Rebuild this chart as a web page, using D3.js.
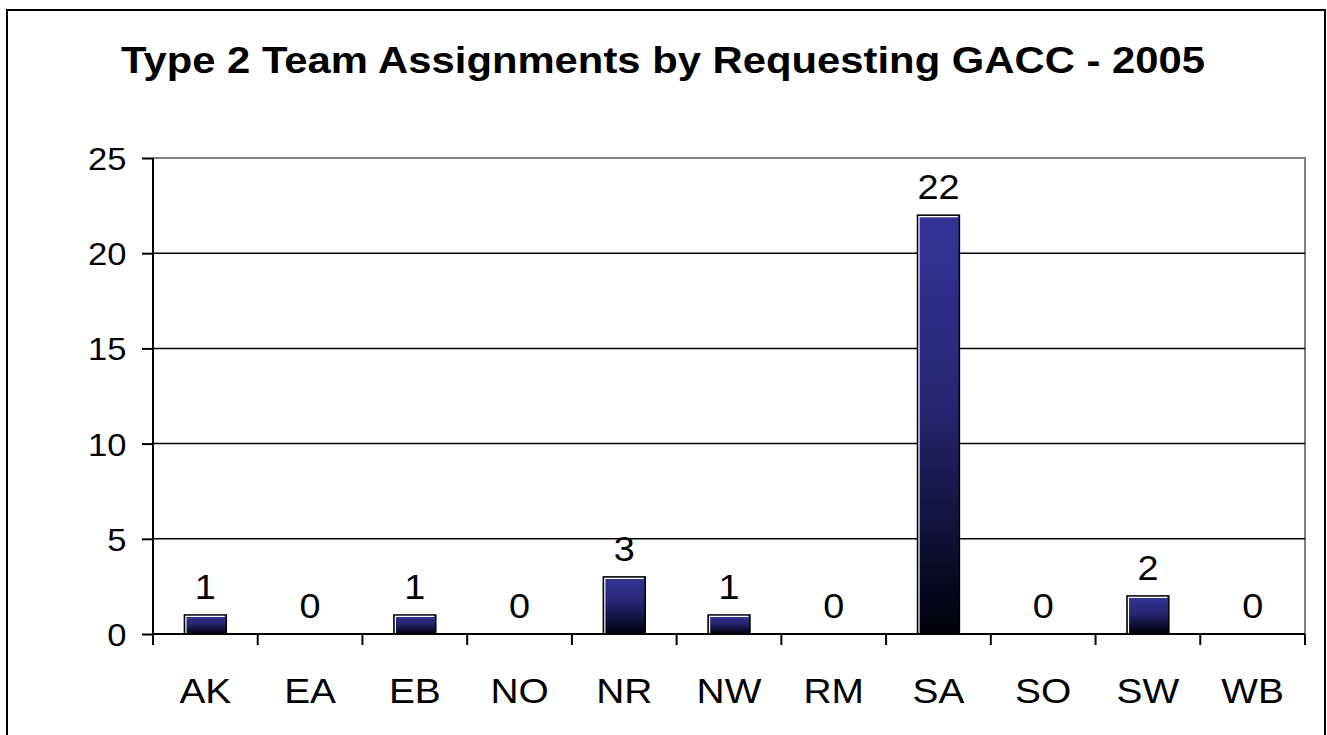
<!DOCTYPE html>
<html>
<head>
<meta charset="utf-8">
<script src="https://cdn.jsdelivr.net/npm/d3@7"></script>
<style>
  body { margin: 0; background: #fff; }
  text { font-family: "Liberation Sans", Arial, sans-serif; }
</style>
</head>
<body>
<div id="chart"></div>
<script>
// Data
var gaccs = ["AK", "EA", "EB", "NO", "NR", "NW", "RM", "SA", "SO", "SW", "WB"];
var assignments = [1, 0, 1, 0, 3, 1, 0, 22, 0, 2, 0];
var yTicks = [0, 5, 10, 15, 20, 25];
var chartTitle = "Type 2 Team Assignments by Requesting GACC - 2005";

var width = 1327,
    height = 735;

var margin = {top: 158, right: 22, bottom: 101, left: 153};

// the original text is a little wider than Arial, stretch it sideways
var stretch = 1.08;

var svg = d3.select("#chart")
            .append("svg")
              .attr("width", width)
              .attr("height", height);

// Outer chart frame
svg.append("rect")
  .attr("x", 7)
  .attr("y", 10)
  .attr("width", 1318)
  .attr("height", 760)
  .attr("fill", "none")
  .attr("stroke", "#000")
  .attr("stroke-width", 2);

// Title
svg.append("text")
  .attr("transform", "translate(663,73) scale(1.13,1)")
  .attr("text-anchor", "middle")
  .style("font-size", "37px")
  .style("font-weight", "bold")
  .text(chartTitle);

// Bar gradient
var defs = svg.append("defs");
var grad = defs.append("linearGradient")
  .attr("id", "barFill")
  .attr("x1", 0).attr("y1", 0)
  .attr("x2", 0).attr("y2", 1);
grad.append("stop").attr("offset", "0%").attr("stop-color", "#343499");
grad.append("stop").attr("offset", "45%").attr("stop-color", "#262672");
grad.append("stop").attr("offset", "100%").attr("stop-color", "#00000a");

var plotW = width - margin.left - margin.right,
    plotH = height - margin.top - margin.bottom;

var g = svg.append("g")
  .attr("transform", "translate(" + margin.left + "," + margin.top + ")");

var x = d3.scaleBand()
          .domain(gaccs)
          .range([0, plotW])
          .paddingInner(0.6)
          .paddingOuter(0.3);

var y = d3.scaleLinear()
          .domain([0, 25])
          .range([plotH, 0]);

// Plot area border (grey top and right)
g.append("path")
  .attr("d", "M0,0H" + plotW + "V" + plotH)
  .attr("fill", "none")
  .attr("stroke", "#808080")
  .attr("stroke-width", 2);

// Gridlines
g.selectAll(".grid")
  .data(yTicks.filter(function(d) { return d > 0 && d < 25; }))
  .enter()
  .append("line")
    .attr("class", "grid")
    .attr("x1", 0)
    .attr("x2", plotW)
    .attr("y1", function(d) { return y(d); })
    .attr("y2", function(d) { return y(d); })
    .attr("stroke", "#000")
    .attr("stroke-width", 1.5);

// Bars
var bars = g.selectAll(".bar")
  .data(gaccs.map(function(k, i) { return {key: k, value: assignments[i]}; }))
  .enter()
  .append("g")
    .attr("class", "bar");

bars.filter(function(d) { return d.value > 0; })
  .append("rect")
    .attr("x", function(d) { return x(d.key); })
    .attr("y", function(d) { return y(d.value); })
    .attr("width", x.bandwidth())
    .attr("height", function(d) { return plotH - y(d.value); })
    .attr("fill", "url(#barFill)")
    .attr("stroke", "#000")
    .attr("stroke-width", 1.5);

// White highlight on the left and top of each bar
bars.filter(function(d) { return d.value > 0; })
  .append("path")
    .attr("d", function(d) {
      var x0 = x(d.key) + 1.5, y0 = y(d.value) + 1.5;
      return "M" + x0 + "," + (plotH - 1) + "V" + y0 + "H" + (x(d.key) + x.bandwidth() - 1.5);
    })
    .attr("fill", "none")
    .attr("stroke", "#fff")
    .attr("stroke-width", 1.2);

// Value labels
bars.append("text")
  .attr("transform", function(d) {
    return "translate(" + (x(d.key) + x.bandwidth() / 2) + "," + (y(d.value) - 16) + ") scale(" + stretch + ",1)";
  })
  .attr("text-anchor", "middle")
  .style("font-size", "35px")
  .text(function(d) { return d.value; });

// Y axis
var yAxis = g.append("g")
  .call(d3.axisLeft(y).tickValues(yTicks).tickSize(11).tickPadding(13.5));
yAxis.select(".domain").attr("stroke-width", 2).attr("d", "M0," + plotH + "V0");
yAxis.selectAll(".tick line").attr("stroke-width", 2);
yAxis.selectAll("text")
  .style("font-size", "32px")
  .attr("dy", "0.36em")
  .attr("transform", "scale(" + stretch + ",1)")
  .attr("fill", "#000");

// X axis, ticks sit between categories
var xAxis = g.append("g")
  .attr("transform", "translate(0," + plotH + ")");
xAxis.append("line")
  .attr("x1", 0).attr("x2", plotW)
  .attr("stroke", "#000")
  .attr("stroke-width", 2);
xAxis.selectAll(".sep")
  .data(d3.range(gaccs.length + 1))
  .enter()
  .append("line")
    .attr("class", "sep")
    .attr("x1", function(i) { return i * x.step(); })
    .attr("x2", function(i) { return i * x.step(); })
    .attr("y1", 0)
    .attr("y2", 11)
    .attr("stroke", "#000")
    .attr("stroke-width", 2);
xAxis.selectAll(".xlabel")
  .data(gaccs)
  .enter()
  .append("text")
    .attr("class", "xlabel")
    .attr("transform", function(d) {
      return "translate(" + (x(d) + x.bandwidth() / 2) + ",69) scale(" + stretch + ",1)";
    })
    .attr("text-anchor", "middle")
    .style("font-size", "36px")
    .text(function(d) { return d; });
</script>
</body>
</html>
